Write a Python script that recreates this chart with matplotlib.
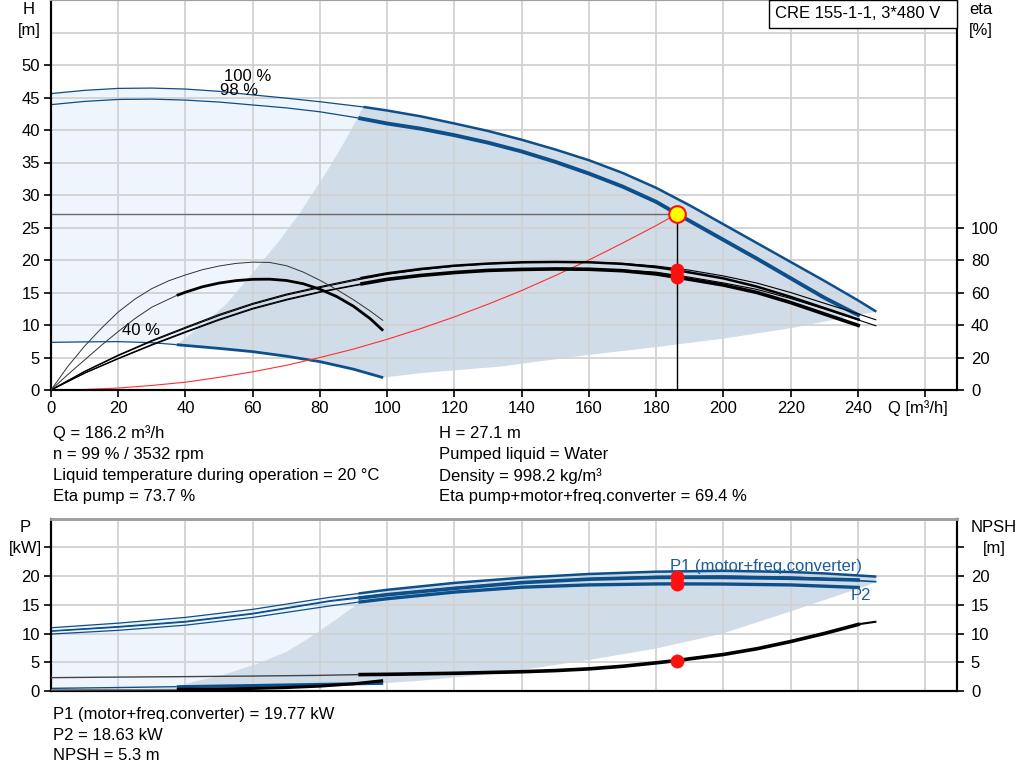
import matplotlib
matplotlib.use('Agg')
import matplotlib.pyplot as plt
import numpy as np
from matplotlib.patches import Rectangle

plt.rcParams['font.family'] = ['Liberation Sans', 'DejaVu Sans']
plt.rcParams['font.size'] = 12

# ---------------- data ----------------
# Operating point
Q_op = 186.2
H_op = 27.1
eta_pump_op = 73.7
eta_tot_op = 69.4
P1_op = 19.77
P2_op = 18.63
NPSH_op = 5.3

# Head curves
Q_H100 = [0, 10, 20, 30, 40, 50, 60, 70, 80, 92.9, 100, 110, 120, 130, 140, 150, 160,
          170, 180, 190, 200, 210, 220, 230, 240, 245.5]
H_100 = [45.6, 46.1, 46.4, 46.45, 46.3, 45.95, 45.4, 44.9, 44.35, 43.55, 43.0, 42.1, 41.0,
         39.85, 38.5, 37.0, 35.35, 33.4, 31.1, 28.4, 25.5, 22.6, 19.7, 16.8, 13.8, 12.05]
Q_H99 = [0, 10, 20, 30, 40, 50, 60, 70, 80, 91.4, 100, 110, 120, 130, 140, 150, 160,
         170, 180, 186.2, 190, 200, 210, 220, 230, 240.6]
H_99 = [43.9, 44.4, 44.7, 44.75, 44.6, 44.3, 43.85, 43.4, 42.8, 41.85, 41.0, 40.2, 39.2,
        38.05, 36.7, 35.1, 33.3, 31.3, 28.95, 27.1, 26.0, 23.1, 20.2, 17.2, 14.2, 11.4]
Q_H40 = [0, 10, 20, 30, 37.4, 50, 60, 70, 80, 90, 98.8]
H_40 = [7.33, 7.4, 7.44, 7.28, 6.97, 6.4, 5.9, 5.2, 4.36, 3.2, 1.9]

# System curve
Q_sys = [0, 10, 20, 30, 40, 50, 60, 70, 80, 90, 100, 110, 120, 130, 140, 150, 160, 170,
         180, 186.2]
H_sys = [0, 0.08, 0.3, 0.7, 1.2, 1.95, 2.8, 3.8, 5.0, 6.3, 7.8, 9.45, 11.25, 13.2, 15.3,
         17.6, 20.0, 22.6, 25.3, 27.1]

# Efficiency curves [%]
Q_eta99 = [0, 10, 20, 30, 40, 50, 60, 70, 80, 92, 100, 110, 120, 130, 140, 150, 160,
           170, 180, 186.2, 200, 210, 220, 230, 240.6]
eta_pump_99 = [0, 11.5, 21.5, 30.5, 38.6, 46.5, 53.3, 59, 63.6, 68.8, 71.8, 74.5, 76.5,
               77.8, 78.6, 78.8, 78.6, 77.6, 75.6, 73.7, 68.7, 63.6, 57.3, 50.4, 43.1]
eta_tot_99 = [0, 10.5, 19.5, 28, 35.9, 43.5, 50.3, 55.8, 60.5, 65.2, 68.1, 70.5, 72.3,
              73.6, 74.2, 74.5, 74.3, 73.4, 71.4, 69.4, 64.6, 60.0, 53.8, 46.8, 39.4]
Q_eta100 = [0, 10, 20, 30, 40, 50, 60, 70, 80, 90, 100, 110, 120, 130, 140, 150, 160,
            170, 180, 190, 200, 210, 220, 230, 240, 245.5]
eta_pump_100 = [0, 11.3, 21.1, 30.0, 38.0, 45.8, 52.7, 58.4, 63.0, 67.3, 71.2, 74.0, 76.2,
                77.6, 78.4, 78.8, 78.7, 77.9, 76.3, 73.7, 70.2, 65.8, 60, 53.4, 46.9, 43.1]
eta_tot_100 = [0, 10.3, 19.2, 27.6, 35.4, 43, 49.8, 55.3, 60.1, 64.1, 67.8, 70.2, 72.0,
               73.3, 74.0, 74.4, 74.4, 73.8, 72.5, 69.4, 65.9, 61.9, 56.3, 49.9, 43.2, 39.4]
Q_eta40a = [0, 5, 10, 15, 20, 25, 30, 35, 40, 45, 50, 55, 60, 65, 70, 75, 80, 85, 90,
            95, 98.8]
eta40_a = [0, 14.5, 27, 38, 48, 56, 62.4, 67.2, 70.8, 74, 76.3, 77.9, 78.7, 78.5, 76.5,
           72.6, 67.5, 61.8, 55.5, 48.5, 42.7]
Q_eta40b = [0, 5, 10, 15, 20, 25, 30, 37.4, 40, 45, 50, 55, 60, 65, 70, 75, 80, 85, 90,
            95, 98.8]
eta40_b = [0, 9.5, 18.5, 27.5, 36, 44, 51, 58.2, 60.2, 63.5, 65.8, 67.3, 68.1, 68.2, 67.4,
           65.4, 62, 57.5, 51.5, 43.8, 36.5]

# Shaded operating ranges (top chart)
Q_dark_left = [37.4, 45, 52.3, 60, 68.1, 74, 83, 88, 92.9]
H_dark_left = [6.97, 10.0, 13.3, 18.0, 23.1, 27.2, 34.4, 38.8, 43.55]
Q_dark_bot = [98.8, 110, 133.6, 160, 180, 200, 220, 237.6, 245.5]
H_dark_bot = [1.9, 2.6, 3.6, 5.4, 6.6, 7.9, 9.5, 11.3, 12.05]

# Power curves [kW]
Q_P100 = [0, 20, 40, 60, 83, 91.4, 100, 120, 140, 160, 180, 200, 220, 230, 245.5]
P1_100 = [11.0, 11.8, 12.8, 14.2, 16.3, 16.95, 17.6, 18.8, 19.7, 20.35, 20.75, 20.9, 20.7,
          20.45, 19.9]
P2_100 = [10.45, 11.2, 12.1, 13.5, 15.7, 16.3, 16.8, 17.95, 18.9, 19.5, 19.9, 20.0, 19.8,
          19.55, 19.0]
Q_P99 = [0, 20, 40, 60, 83, 91.4, 100, 120, 140, 160, 180, 186.2, 200, 220, 240.6]
P1_99 = [10.4, 11.1, 12.0, 13.4, 15.6, 16.15, 16.75, 17.85, 18.85, 19.45, 19.75, 19.77,
         19.75, 19.6, 19.3]
P2_99 = [9.9, 10.55, 11.45, 12.8, 14.8, 15.45, 16.05, 17.2, 18.05, 18.45, 18.62, 18.63,
         18.6, 18.45, 18.0]
Q_P40 = [0, 20, 37.4, 60, 80, 98.8]
P_40 = [0.46, 0.6, 0.75, 0.95, 1.15, 1.33]

# NPSH [m]
Q_N = [0, 20, 40, 60, 80, 91.4, 100, 120, 140, 150, 160, 170, 180, 186.2, 190, 200, 210,
       220, 230, 240.6]
NPSH_99 = [2.32, 2.42, 2.5, 2.6, 2.72, 2.85, 2.9, 3.08, 3.35, 3.55, 3.85, 4.3, 4.9, 5.3,
           5.6, 6.35, 7.35, 8.6, 10.0, 11.65]
Q_N100 = [240.6, 245.5]
NPSH_100 = [11.65, 12.06]
Q_N40 = [0, 37.4, 50, 60, 70, 80, 90, 98.8]
NPSH_40 = [0.2, 0.28, 0.35, 0.45, 0.6, 0.85, 1.25, 1.8]

# Shaded ranges (power chart)
Q_pdark_left = [37.4, 40.4, 51.3, 62.2, 70, 76, 84, 91.4]
P_pdark_left = [0.75, 1.3, 2.8, 4.9, 6.8, 8.9, 12.1, 15.2]
Q_pdark_bot = [245.5, 242.6, 219.8, 199.8, 180.2, 160, 133.6, 110, 98.8]
P_pdark_bot = [19.0, 18.3, 13.8, 10.0, 7.4, 5.4, 3.1, 1.8, 1.33]

x_ticks = [0, 20, 40, 60, 80, 100, 120, 140, 160, 180, 200, 220, 240, 260]
x_ticklabels = ['0', '20', '40', '60', '80', '100', '120', '140', '160', '180', '200',
                '220', '240', '']

# ---------------- styling ----------------
BLUE = '#0d4f8b'
LIGHT = '#eef5fc'
DARK = '#d0dce8'
GRID = '#d2d2d2'

W, HP = 1024, 781
fig = plt.figure(figsize=(W / 100, HP / 100), dpi=100)


def fx(x):
    return x / W


def fy(y):
    return 1 - y / HP


def seg(ax, q, v, lo, hi, **kw):
    q = np.asarray(q, float)
    v = np.asarray(v, float)
    m = (q >= lo) & (q <= hi)
    ax.plot(q[m], v[m], solid_capstyle='butt', solid_joinstyle='round', **kw)


XMAX = 906 / 3.362

# ================= top chart =================
ax1 = fig.add_axes([fx(51), fy(390), 906 / W, 390 / HP])
ax1.set_xlim(0, XMAX)
ax1.set_ylim(0, 60)
ax1.set_axisbelow('line')

qa = np.asarray(Q_H100); ha = np.asarray(H_100)
q40 = np.asarray(Q_H40); h40 = np.asarray(H_40)
m = qa <= 100
ax1.fill(np.r_[qa[m], q40[::-1]], np.r_[ha[m], h40[::-1]], color=LIGHT, lw=0, zorder=1)
m2 = qa > 92.9
m3 = (q40 >= 37.4)
ax1.fill(np.r_[Q_dark_left, qa[m2], Q_dark_bot[::-1], q40[m3][::-1]],
         np.r_[H_dark_left, ha[m2], H_dark_bot[::-1], h40[m3][::-1]],
         color=DARK, lw=0, zorder=1)

ax1.set_xticks(x_ticks)
ax1.set_xticklabels(x_ticklabels)
ax1.set_yticks(np.arange(0, 51, 5))
ax1.grid(True, color=GRID, lw=1.3)
ax1.axhline(55, color=GRID, lw=1.3, zorder=1.5)

seg(ax1, Q_H100, H_100, 0, 92.9, color=BLUE, lw=0.9, zorder=3)
seg(ax1, Q_H100, H_100, 92.9, 300, color=BLUE, lw=1.8, zorder=3)
seg(ax1, Q_H99, H_99, 0, 91.4, color=BLUE, lw=0.9, zorder=3)
seg(ax1, Q_H99, H_99, 91.4, 300, color=BLUE, lw=2.8, zorder=3)
seg(ax1, Q_H40, H_40, 0, 37.4, color=BLUE, lw=0.9, zorder=3)
seg(ax1, Q_H40, H_40, 37.4, 300, color=BLUE, lw=2.0, zorder=3)

ax1.plot(Q_sys, H_sys, color='#ff3030', lw=0.8, zorder=3)
ax1.plot([0, Q_op], [H_op, H_op], color='#6a6a6a', lw=1.0, zorder=3)
ax1.plot([Q_op, Q_op], [0, H_op], color='black', lw=1.0, zorder=3)

ax1.text(51.5, 48.2, '100 %', fontsize=12, ha='left', va='center', zorder=4)
ax1.text(50.2, 46.1, '98 %', fontsize=12, ha='left', va='center', zorder=4)
ax1.text(21, 9.2, '40 %', fontsize=12, ha='left', va='center', zorder=4)

ax1r = ax1.twinx()
ax1r.set_ylim(0, 240)
ax1r.set_yticks([0, 20, 40, 60, 80, 100])
seg(ax1r, Q_eta100, eta_pump_100, 0, 300, color='black', lw=0.8, zorder=3)
seg(ax1r, Q_eta100, eta_tot_100, 0, 300, color='black', lw=0.8, zorder=3)
seg(ax1r, Q_eta99, eta_pump_99, 0, 92, color='black', lw=0.8, zorder=3)
seg(ax1r, Q_eta99, eta_pump_99, 92, 300, color='black', lw=1.8, zorder=3)
seg(ax1r, Q_eta99, eta_tot_99, 0, 92, color='black', lw=0.8, zorder=3)
seg(ax1r, Q_eta99, eta_tot_99, 92, 300, color='black', lw=2.6, zorder=3)
seg(ax1r, Q_eta40a, eta40_a, 0, 300, color='#333333', lw=0.7, zorder=3)
seg(ax1r, Q_eta40b, eta40_b, 0, 37.4, color='#333333', lw=0.7, zorder=3)
seg(ax1r, Q_eta40b, eta40_b, 37.4, 300, color='black', lw=2.0, zorder=3)
ax1r.plot([Q_op, Q_op], [eta_pump_op, eta_tot_op], 'o', color='#ff1010', ms=10, mew=0, zorder=5)
ax1r.plot([Q_op], [H_op * 4], 'o', color='#ffff00', mec='#ff1010', ms=12, mew=1.5, zorder=6)

for a in (ax1, ax1r):
    a.tick_params(axis='both', direction='out', length=5, width=1.2, labelsize=12,
                  colors='black', pad=3)
    for s in ('left', 'right', 'bottom'):
        a.spines[s].set_color('black')
        a.spines[s].set_linewidth(1.5)
    a.spines['top'].set_color('#a0a0a0')
    a.spines['top'].set_linewidth(1.5)
ax1r.tick_params(axis='y', pad=5)

# ================= bottom chart =================
ax2 = fig.add_axes([fx(51), fy(691), 906 / W, 172.5 / HP])
ax2.set_xlim(0, XMAX)
ax2.set_ylim(0, 30)
ax2.set_axisbelow('line')
ax2.set_xticks(x_ticks)
ax2.set_xticklabels([])
ax2.set_yticks([0, 5, 10, 15, 20, 25])
ax2.set_yticklabels(['0', '5', '10', '15', '20', ''])
ax2.grid(True, color=GRID, lw=1.3)

qp = np.asarray(Q_P100); p1a = np.asarray(P1_100)
qp40 = np.asarray(Q_P40); p40 = np.asarray(P_40)
m = qp <= 100
ax2.fill(np.r_[qp[m], qp40[::-1]], np.r_[p1a[m], p40[::-1]], color=LIGHT, lw=0, zorder=1)
m2 = qp > 91.4
m3 = qp40 >= 37.4
ax2.fill(np.r_[Q_pdark_left, qp[m2], Q_pdark_bot, qp40[m3][::-1]],
         np.r_[P_pdark_left, p1a[m2], P_pdark_bot, p40[m3][::-1]],
         color=DARK, lw=0, zorder=1)

seg(ax2, Q_P100, P1_100, 0, 91.4, color=BLUE, lw=0.9, zorder=3)
seg(ax2, Q_P100, P1_100, 91.4, 300, color=BLUE, lw=1.8, zorder=3)
seg(ax2, Q_P100, P2_100, 0, 91.4, color=BLUE, lw=0.9, zorder=3)
seg(ax2, Q_P100, P2_100, 91.4, 300, color=BLUE, lw=1.2, zorder=3)
seg(ax2, Q_P99, P1_99, 0, 91.4, color=BLUE, lw=0.9, zorder=3)
seg(ax2, Q_P99, P1_99, 91.4, 300, color=BLUE, lw=2.6, zorder=3)
seg(ax2, Q_P99, P2_99, 0, 91.4, color=BLUE, lw=0.9, zorder=3)
seg(ax2, Q_P99, P2_99, 91.4, 300, color=BLUE, lw=2.4, zorder=3)
seg(ax2, Q_P40, P_40, 0, 37.4, color=BLUE, lw=1.0, zorder=3)
seg(ax2, Q_P40, P_40, 37.4, 300, color=BLUE, lw=2.2, zorder=3)
ax2.plot([Q_op, Q_op], [P1_op, P2_op], 'o', color='#ff1010', ms=10, mew=0, zorder=5)

ax2r = ax2.twinx()
ax2r.set_ylim(0, 30)
ax2r.set_yticks([0, 5, 10, 15, 20, 25])
ax2r.set_yticklabels(['0', '5', '10', '15', '20', ''])
seg(ax2r, Q_N, NPSH_99, 0, 91.4, color='#444444', lw=1.0, zorder=3)
seg(ax2r, Q_N, NPSH_99, 91.4, 300, color='black', lw=2.6, zorder=3)
seg(ax2r, Q_N100, NPSH_100, 0, 300, color='black', lw=1.5, zorder=3)
seg(ax2r, Q_N40, NPSH_40, 0, 37.4, color='#777777', lw=1.0, zorder=3)
seg(ax2r, Q_N40, NPSH_40, 37.4, 300, color='black', lw=2.2, zorder=3)
ax2r.plot([Q_op], [NPSH_op], 'o', color='#ff1010', ms=10, mew=0, zorder=5)

for a in (ax2, ax2r):
    a.tick_params(axis='y', direction='out', length=5, width=1.2, labelsize=12,
                  colors='black', pad=3)
    a.tick_params(axis='x', length=0)
    for s in ('left', 'right', 'bottom'):
        a.spines[s].set_color('black')
        a.spines[s].set_linewidth(1.5)
    a.spines['top'].set_color('#a0a0a0')
    a.spines['top'].set_linewidth(2)
ax2r.tick_params(axis='y', pad=5)

# ---------------- texts ----------------
def ftxt(x, y, s, **kw):
    kw.setdefault('fontsize', 12)
    kw.setdefault('va', 'center')
    fig.text(fx(x), fy(y), s, **kw)


ftxt(29, 9, 'H', ha='center')
ftxt(29, 30, '[m]', ha='center')
ftxt(981, 9, 'eta', ha='center')
ftxt(981, 30, '[%]', ha='center')
ftxt(888, 408, 'Q [m³/h]', ha='left')
ftxt(25, 527, 'P', ha='center')
ftxt(25, 548, '[kW]', ha='center')
ftxt(994, 527, 'NPSH', ha='center')
ftxt(994, 548, '[m]', ha='center')

ftxt(670, 566, 'P1 (motor+freq.converter)', ha='left', color='#1b5c9c')
ftxt(851, 596, 'P2', ha='left', color='#1b5c9c')

ftxt(53, 433, 'Q = 186.2 m³/h')
ftxt(53, 454, 'n = 99 % / 3532 rpm')
ftxt(53, 476, 'Liquid temperature during operation = 20 °C')
ftxt(53, 497, 'Eta pump = 73.7 %')
ftxt(439, 433, 'H = 27.1 m')
ftxt(439, 454, 'Pumped liquid = Water')
ftxt(439, 476, 'Density = 998.2 kg/m³')
ftxt(439, 497, 'Eta pump+motor+freq.converter = 69.4 %')
ftxt(53, 714, 'P1 (motor+freq.converter) = 19.77 kW')
ftxt(53, 735, 'P2 = 18.63 kW')
ftxt(53, 756, 'NPSH = 5.3 m')

box = Rectangle((fx(769), fy(28)), 188 / W, 28 / HP, transform=fig.transFigure,
                facecolor='white', edgecolor='black', lw=1.0, zorder=10)
fig.add_artist(box)
ftxt(775, 14, 'CRE 155-1-1, 3*480 V', ha='left', zorder=11)

fig.savefig('out.png', dpi=100)
